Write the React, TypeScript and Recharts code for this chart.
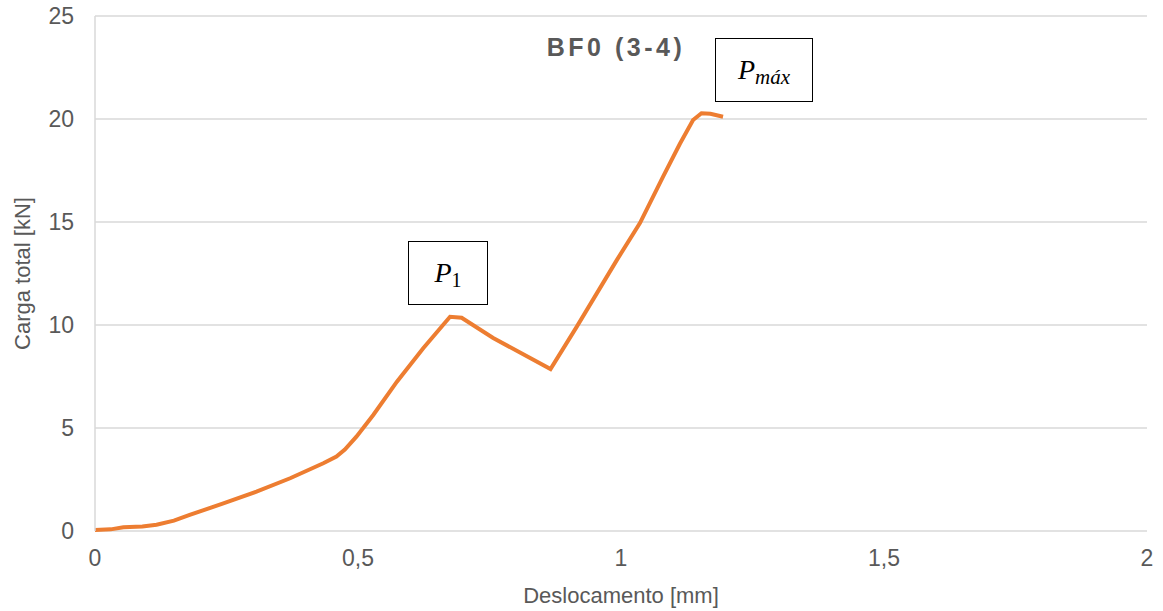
import React from "react";
import { LineChart, Line, XAxis, YAxis, CartesianGrid, Label } from "recharts";

// Deslocamento [mm] vs carga total [kN]
const displacement = [
  0, 0.03, 0.054, 0.09, 0.117, 0.15, 0.18, 0.244, 0.307, 0.371, 0.434, 0.459,
  0.475, 0.497, 0.529, 0.574, 0.624, 0.66, 0.675, 0.697, 0.757, 0.866, 0.916,
  0.992, 1.036, 1.08, 1.112, 1.137, 1.153, 1.17, 1.194,
];
const load = [
  0.05, 0.08, 0.18, 0.22, 0.3, 0.5, 0.78, 1.34, 1.91, 2.56, 3.29, 3.61, 3.95,
  4.58, 5.63, 7.25, 8.87, 9.95, 10.4, 10.35, 9.37, 7.86, 9.92, 13.15, 14.95,
  17.2, 18.8, 19.95, 20.28, 20.25, 20.11,
];
const xTicks = [0, 0.5, 1, 1.5, 2];
const yTicks = [0, 5, 10, 15, 20, 25];

const data = displacement.map((d, i) => ({ d, p: load[i] }));

const FONT = "'Liberation Sans', Arial, sans-serif";
const GREY = "#595959";
const fmt = (v: number) => String(v).replace(".", ",");

const boxStyle: React.CSSProperties = {
  position: "absolute",
  border: "1.5px solid #000",
  background: "#fff",
  display: "flex",
  alignItems: "center",
  justifyContent: "center",
  fontFamily: "'Liberation Serif', 'DejaVu Serif', serif",
  fontStyle: "italic",
  fontSize: 28,
  color: "#000",
  boxSizing: "border-box",
  lineHeight: 1,
};

export default function App() {
  return (
    <div
      style={{
        position: "fixed",
        left: 0,
        top: 0,
        width: 1163,
        height: 611,
        background: "#fff",
        fontFamily: FONT,
      }}
    >
      <LineChart
        width={1163}
        height={611}
        data={data}
        margin={{ top: 16, right: 16, bottom: 50, left: 0 }}
      >
        <CartesianGrid vertical={false} stroke="#d9d9d9" strokeWidth={1.5} />
        <XAxis
          dataKey="d"
          type="number"
          domain={[0, 2]}
          ticks={xTicks}
          tickFormatter={fmt}
          axisLine={false}
          tickLine={false}
          tickSize={0}
          tickMargin={19}
          height={30}
          tick={{ fill: GREY, fontSize: 23, fontFamily: FONT }}
        >
          <Label
            value="Deslocamento [mm]"
            position="bottom"
            offset={26}
            style={{ fill: GREY, fontSize: 22, fontFamily: FONT }}
          />
        </XAxis>
        <YAxis
          type="number"
          domain={[0, 25]}
          ticks={yTicks}
          width={95}
          axisLine={{ stroke: "#d9d9d9", strokeWidth: 1.5 }}
          tickLine={false}
          tickSize={0}
          tickMargin={21}
          tick={{ fill: GREY, fontSize: 23, fontFamily: FONT }}
        >
          <Label
            value="Carga total [kN]"
            angle={-90}
            position="insideLeft"
            offset={22}
            style={{ fill: GREY, fontSize: 22, fontFamily: FONT, textAnchor: "middle" }}
          />
        </YAxis>
        <Line
          type="linear"
          dataKey="p"
          stroke="#ED7D31"
          strokeWidth={4}
          dot={false}
          isAnimationActive={false}
        />
      </LineChart>

      <div
        style={{
          position: "absolute",
          left: 516,
          top: 32,
          width: 200,
          textAlign: "center",
          fontWeight: "bold",
          fontSize: 25,
          letterSpacing: 3.5,
          color: GREY,
          fontFamily: FONT,
          lineHeight: "30px",
        }}
      >
        BF0 (3-4)
      </div>

      <div style={{ ...boxStyle, left: 408, top: 241, width: 80, height: 64 }}>
        <span>P</span>
        <span style={{ fontStyle: "normal", fontSize: 20, position: "relative", top: 7 }}>1</span>
      </div>
      <div style={{ ...boxStyle, left: 715, top: 38, width: 98, height: 64 }}>
        <span>P</span>
        <span style={{ fontSize: 21, position: "relative", top: 7 }}>máx</span>
      </div>
    </div>
  );
}
